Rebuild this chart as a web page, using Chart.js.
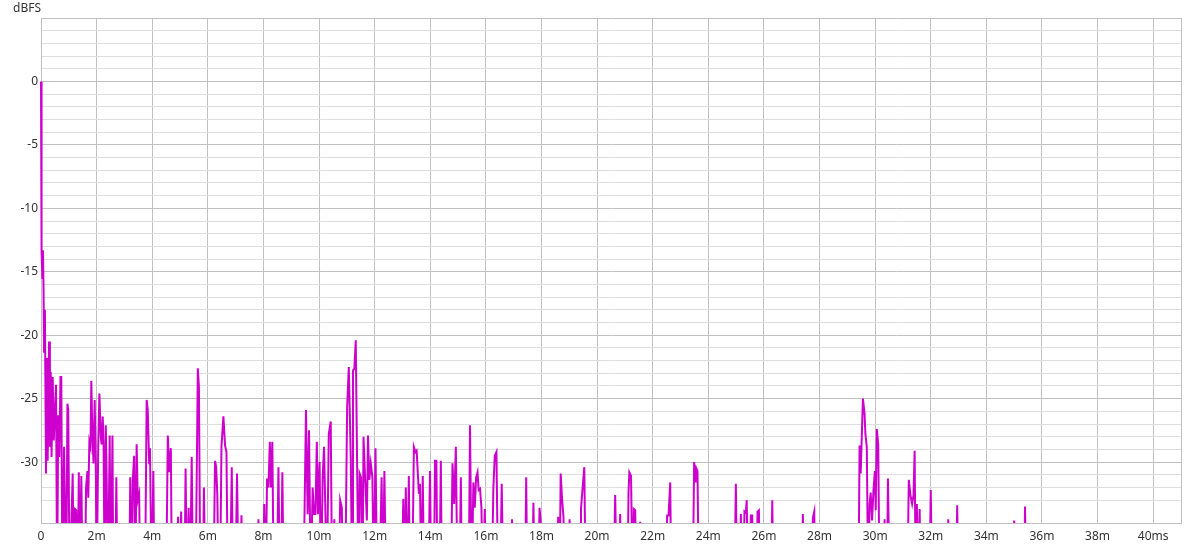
<!DOCTYPE html>
<html>
<head>
<meta charset="utf-8">
<title>ETC</title>
<script src="https://cdn.jsdelivr.net/npm/chart.js@4.4.1/dist/chart.umd.min.js"></script>
<style>
    html, body { margin: 0; padding: 0; background: #ffffff; }
    #wrap { width: 1200px; height: 549px; position: relative; }
</style>
</head>
<body>
<div id="wrap"><canvas id="grafico"></canvas></div>
<script>
// level below the visible floor, the trace drops out of the plot there
const F = -40;

// time (ms) and level (dBFS)
const timesMs = [
    0, 0.01, 0.03, 0.05, 0.07, 0.09, 0.11, 0.14, 0.18, 0.22, 0.24, 0.29, 0.32, 0.35, 0.38, 0.42, 0.46, 0.50, 0.54, 0.58,
    0.62, 0.66, 0.70, 0.73, 0.77, 0.83, 0.86, 0.91, 0.95, 0.98, 1.03, 1.14, 1.18, 1.22, 1.27, 1.32, 1.36, 1.39, 1.45, 1.50,
    1.58, 1.62, 1.67, 1.70, 1.74, 1.78, 1.81, 1.85, 1.89, 1.93, 1.97, 2.00, 2.06, 2.10, 2.15, 2.18, 2.22, 2.25, 2.29, 2.33,
    2.36, 2.41, 2.47, 2.51, 2.57, 2.60, 2.67, 2.71, 2.75, 3.17, 3.21, 3.25, 3.30, 3.35, 3.39, 3.44, 3.48, 3.53, 3.57, 3.74,
    3.80, 3.84, 3.89, 3.92, 3.98, 4.04, 4.08, 4.50, 4.56, 4.62, 4.67, 4.71, 4.88, 4.93, 4.98, 5.04, 5.08, 5.16, 5.20, 5.25,
    5.31, 5.36, 5.42, 5.47, 5.56, 5.64, 5.68, 5.73, 5.82, 5.86, 5.91, 6.20, 6.26, 6.30, 6.34, 6.39, 6.44, 6.49, 6.56, 6.62,
    6.67, 6.72, 6.80, 6.86, 6.91, 6.99, 7.05, 7.11, 7.16, 7.21, 7.25, 7.76, 7.82, 7.87, 7.98, 8.03, 8.08, 8.13, 8.18, 8.23,
    8.27, 8.32, 8.37, 8.48, 8.54, 8.59, 8.63, 8.68, 8.73, 9.44, 9.53, 9.59, 9.64, 9.70, 9.77, 9.82, 9.87, 9.92, 9.96, 10.02,
    10.07, 10.13, 10.18, 10.23, 10.28, 10.35, 10.42, 10.47, 10.55, 10.60, 10.70, 10.76, 10.82, 10.86, 10.94, 11.01, 11.07, 11.14, 11.19, 11.22,
    11.27, 11.32, 11.37, 11.42, 11.46, 11.51, 11.56, 11.60, 11.66, 11.72, 11.76, 11.81, 11.86, 11.92, 11.97, 12.03, 12.09, 12.17, 12.25, 12.30,
    12.35, 12.41, 12.97, 13.03, 13.07, 13.12, 13.17, 13.23, 13.27, 13.35, 13.41, 13.47, 13.51, 13.59, 13.63, 13.68, 13.73, 13.78, 13.93, 13.99,
    14.04, 14.13, 14.17, 14.22, 14.26, 14.33, 14.38, 14.42, 14.74, 14.80, 14.86, 14.92, 14.98, 15.05, 15.10, 15.14, 15.38, 15.43, 15.49, 15.55,
    15.60, 15.65, 15.70, 15.74, 15.79, 15.84, 15.89, 15.96, 16.01, 16.21, 16.27, 16.32, 16.38, 16.44, 16.51, 16.57, 16.63, 16.91, 16.94, 16.98,
    17.41, 17.45, 17.49, 17.66, 17.71, 17.76, 17.88, 17.93, 17.97, 18.02, 18.55, 18.60, 18.65, 18.69, 18.74, 18.79, 18.84, 18.96, 19.01, 19.05,
    19.39, 19.42, 19.48, 19.54, 19.59, 20.59, 20.65, 20.71, 20.78, 20.83, 20.88, 21.09, 21.13, 21.16, 21.22, 21.28, 21.32, 21.37, 21.43, 21.51,
    21.55, 21.58, 22.48, 22.52, 22.57, 22.63, 22.67, 23.44, 23.49, 23.54, 23.57, 23.61, 23.66, 24.94, 24.99, 25.04, 25.12, 25.17, 25.22, 25.26,
    25.30, 25.35, 25.38, 25.43, 25.49, 25.53, 25.58, 25.61, 25.73, 25.77, 25.82, 25.86, 26.26, 26.30, 26.34, 27.36, 27.40, 27.45, 27.72, 27.76,
    27.81, 27.85, 29.40, 29.44, 29.48, 29.56, 29.62, 29.65, 29.70, 29.75, 29.80, 29.84, 29.89, 29.94, 29.99, 30.02, 30.06, 30.11, 30.16, 30.30,
    30.34, 30.37, 30.42, 30.46, 30.52, 31.16, 31.21, 31.27, 31.33, 31.38, 31.42, 31.46, 31.50, 31.55, 31.60, 31.64, 31.95, 32.00, 32.05, 32.58,
    32.63, 32.67, 32.91, 32.95, 33.00, 34.95, 35.00, 35.05, 35.36, 35.39, 35.44, 41
];

const levelsDb = [
    0, -13.0, -13.4, -15.5, -13.3, -16.0, -21.3, -18.0, -30.9, -21.8, -29.9, -20.5, -28.8, -22.9, -29.6, -23.3, -28.3, -25.9, -23.9, F,
    -26.3, -29.6, -23.3, -23.3, F, -28.8, -28.8, F, -25.4, -25.9, F, -30.9, F, -33.7, -33.8, F, -30.8, F, -31.1, F,
    F, -32.0, -30.7, -32.8, -28.4, -28.8, -23.6, -28.0, -30.1, -25.1, -29.9, F, -28.6, -24.6, -28.0, -28.6, -26.4, -28.6, F, -27.1,
    -30.9, F, -27.9, F, -27.9, F, F, -31.2, F, F, -31.2, F, -31.4, -29.5, F, -28.6, -33.0, -32.5, F, F,
    -25.1, -25.9, -30.1, -28.9, F, -30.7, F, F, -27.9, -30.8, -28.9, F, F, -34.3, F, -33.9, F, F, -30.5, F,
    -33.6, F, -29.6, F, F, -22.6, -24.1, F, F, -32.0, F, F, -29.9, -30.4, -32.5, F, F, -28.8, -26.4, -28.7,
    -29.2, F, F, -30.4, F, F, -30.9, F, F, -34.2, F, F, -34.5, F, F, -33.3, F, -31.3, -32.0, -28.4,
    -32.0, -28.4, F, F, -30.4, F, F, -30.8, F, F, -25.9, -34.1, -27.5, F, -32.0, -34.1, -34.1, -28.4, -34.1, -30.0,
    F, -31.2, -28.8, -34.1, F, -27.8, -26.8, F, -34.5, F, F, -33.0, -33.6, F, F, -25.7, -22.5, -29.6, F, -22.8,
    -22.6, -20.4, -30.4, F, -30.9, -31.2, F, -28.0, -31.4, -34.6, -27.9, -31.4, -30.1, -31.2, F, -28.9, F, F, -31.2, F,
    -30.7, F, F, -32.9, F, -32.0, F, -31.1, F, F, -28.8, -29.2, -29.1, -32.5, -31.7, F, -31.1, F, F, -30.7,
    F, F, -29.9, -29.9, F, F, -29.9, F, F, -30.1, -33.3, -28.8, F, F, -31.2, F, F, -27.1, F, -31.6,
    -33.6, -31.2, -30.8, -32.2, -32.1, -33.6, F, -33.7, F, F, -32.0, -29.5, -29.2, F, F, -31.7, F, F, -34.5, F,
    F, -31.2, F, F, -33.2, F, F, -33.6, -34.6, F, F, -34.3, F, -30.9, -32.9, -34.3, F, F, -34.5, F,
    F, -33.7, -32.0, -30.4, F, F, -32.6, F, F, -34.1, F, F, -32.4, -30.8, -31.1, F, -33.7, -33.8, F, F,
    -34.7, F, F, -34.2, -34.2, -31.6, F, F, -30.0, -31.6, -30.5, -30.7, F, F, -31.7, F, F, -34.1, F, F,
    -33.9, -34.0, -33.0, F, F, -34.2, -34.2, F, F, -33.9, -33.8, F, F, -33.0, F, F, -34.1, F, F, -34.4,
    -33.9, F, F, -28.7, -30.9, -25.0, -26.2, -27.8, -28.8, F, -33.3, -32.4, -34.6, -32.2, -30.7, -33.8, -27.4, -28.6, F, F,
    -34.5, F, F, -31.3, F, F, -31.4, -32.6, -33.3, -32.6, -29.1, F, -33.3, F, -33.7, F, F, -32.2, F, F,
    -34.5, F, F, -33.4, F, F, -34.6, F, F, -33.5, F, F
];

const xTickLabels = ['0', '2m', '4m', '6m', '8m', '10m', '12m', '14m', '16m', '18m', '20m',
    '22m', '24m', '26m', '28m', '30m', '32m', '34m', '36m', '38m', '40ms'];
const yTickLabels = [0, -5, -10, -15, -20, -25, -30];

const corTraco = 'rgb(206, 0, 206)';
const gradeForte = 'rgb(192, 192, 192)';
const gradeFraca = 'rgb(222, 222, 222)';
const fonte = { family: "'Noto Sans', 'Open Sans', sans-serif", size: 12 };

const pontos = timesMs.map((t, i) => ({ x: t, y: levelsDb[i] }));

const rotuloUnidade = {
    id: 'rotuloUnidade',
    afterDraw(chart) {
        const ctx = chart.ctx;
        ctx.save();
        ctx.font = `12px ${fonte.family}`;
        ctx.fillStyle = '#333333';
        ctx.textAlign = 'left';
        ctx.textBaseline = 'middle';
        ctx.fillText('dBFS', 13, 9);
        ctx.restore();
    }
};

new Chart(document.getElementById('grafico').getContext('2d'), {
    type: 'line',
    data: {
        datasets: [{
            data: pontos,
            borderColor: corTraco,
            borderWidth: 2,
            pointRadius: 0,
            tension: 0,
            fill: false,
            clip: { left: 1, top: 0, right: 0, bottom: 0 }
        }]
    },
    options: {
        responsive: true,
        maintainAspectRatio: false,
        animation: false,
        layout: { padding: { top: 18, right: 19, left: 0, bottom: 0 } },
        plugins: {
            legend: { display: false },
            tooltip: { enabled: false }
        },
        scales: {
            x: {
                type: 'linear',
                min: 0,
                max: 41,
                afterFit: (scale) => { scale.height = 26; },
                border: { color: gradeForte },
                grid: { color: gradeForte, drawTicks: false },
                ticks: {
                    stepSize: 2,
                    autoSkip: false,
                    maxRotation: 0,
                    padding: 6,
                    color: '#333333',
                    font: fonte,
                    callback: (value) => {
                        if (value % 2 !== 0) return '';
                        return xTickLabels[value / 2] ?? '';
                    }
                }
            },
            y: {
                min: -34.8,
                max: 5,
                afterFit: (scale) => { scale.width = 41; },
                border: { color: gradeForte },
                grid: {
                    drawTicks: false,
                    color: (ctx) => (Number.isInteger(ctx.tick.value) && ctx.tick.value % 5 === 0) ? gradeForte : gradeFraca
                },
                ticks: {
                    stepSize: 1,
                    autoSkip: false,
                    padding: 3,
                    color: '#333333',
                    font: fonte,
                    callback: (value) => yTickLabels.includes(value) ? String(value) : ''
                }
            }
        }
    },
    plugins: [rotuloUnidade]
});
</script>
</body>
</html>
